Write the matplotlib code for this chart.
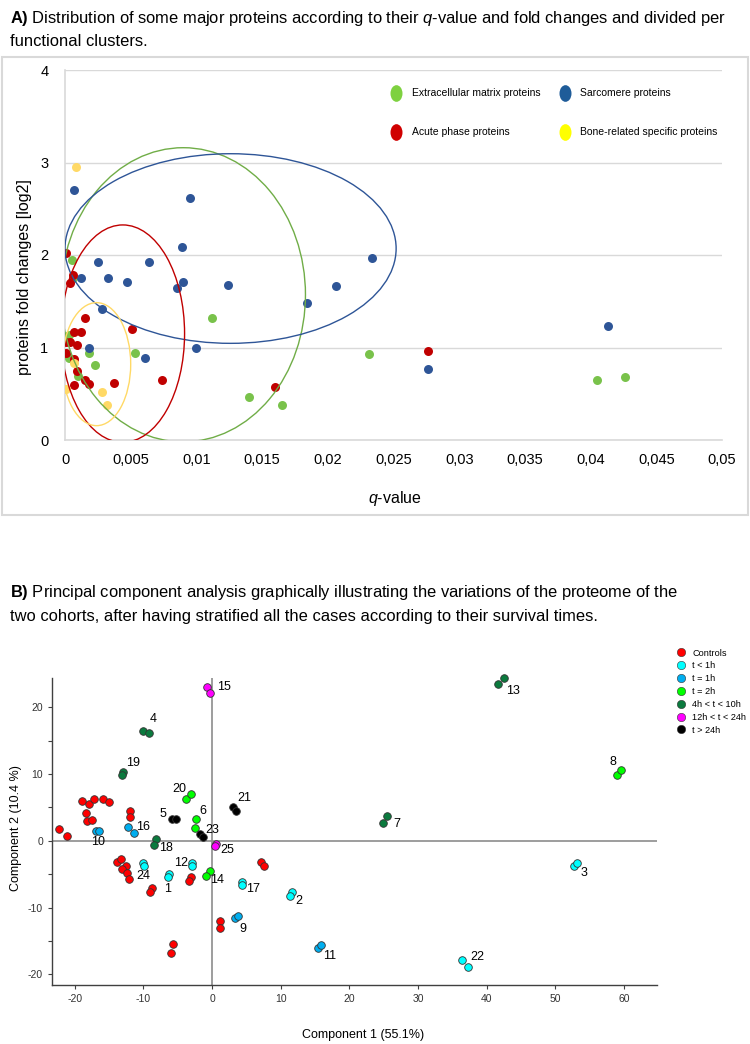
import numpy as np
import matplotlib
matplotlib.use("Agg")
import matplotlib.pyplot as plt
from matplotlib import font_manager
from matplotlib.patches import Ellipse, Rectangle
from matplotlib.lines import Line2D
from matplotlib.path import Path

# ---------------- data: panel A (q-value vs log2 fold change) ----------------
ecm_q = [0.0005, 0.0006, 0.0112, 0.0003, 0.0018, 0.0053, 0.0003, 0.0023, 0.0010,
         0.0140, 0.0165, 0.0231, 0.0405, 0.0426]
ecm_fc = [1.95, 1.75, 1.32, 1.13, 0.94, 0.94, 0.89, 0.81, 0.69, 0.46, 0.38, 0.93, 0.65, 0.68]

sarc_q = [0.0007, 0.0095, 0.0089, 0.0025, 0.0064, 0.0234, 0.0012, 0.0033, 0.0047, 0.0090,
          0.0124, 0.0206, 0.0085, 0.0184, 0.0028, 0.0018, 0.0100, 0.0061, 0.0413, 0.0276]
sarc_fc = [2.70, 2.62, 2.09, 1.92, 1.92, 1.97, 1.75, 1.75, 1.71, 1.71,
           1.68, 1.66, 1.64, 1.48, 1.42, 0.99, 0.99, 0.89, 1.23, 0.77]

acute_q = [0.0001, 0.0006, 0.0004, 0.0015, 0.0007, 0.0012, 0.0051, 0.0001, 0.0004, 0.0009,
           0.0001, 0.0007, 0.0009, 0.0015, 0.0018, 0.0007, 0.0037, 0.0074, 0.0160, 0.0276]
acute_fc = [2.02, 1.78, 1.70, 1.32, 1.17, 1.17, 1.20, 1.06, 1.06, 1.03,
            0.94, 0.88, 0.75, 0.65, 0.61, 0.59, 0.62, 0.65, 0.57, 0.96]

bone_q = [0.0008, 0.0007, 0.0001, 0.0028, 0.0032]
bone_fc = [2.95, 0.83, 0.55, 0.52, 0.38]

# cluster ellipses: centre q, centre fc, width (q), height (fc)
ell_ecm = [0.0090, 1.57, 0.0186, 3.18]
ell_sarc = [0.0126, 2.07, 0.0252, 2.05]
ell_acute = [0.0044, 1.15, 0.0094, 2.35]
ell_bone = [0.0024, 0.82, 0.0052, 1.33]

q_ticks = [0, 0.005, 0.01, 0.015, 0.02, 0.025, 0.03, 0.035, 0.04, 0.045, 0.05]
q_labels = ["0", "0,005", "0,01", "0,015", "0,02", "0,025", "0,03", "0,035", "0,04", "0,045", "0,05"]
fc_ticks = [0, 1, 2, 3, 4]

# ---------------- data: panel B (PCA) ----------------
ctrl_pc1 = [-22.3, -21.1, -19.0, -17.9, -17.2, -15.9, -15.0, -18.3, -18.2, -17.5, -11.9, -11.9,
            -13.9, -13.3, -12.5, -13.1, -12.4, -12.1, -8.8, -9.1, -3.1, -3.3, 7.2, 7.6,
            1.2, 1.2, -5.7, -6.0]
ctrl_pc2 = [1.8, 0.8, 6.0, 5.5, 6.3, 6.3, 5.8, 4.2, 3.0, 3.1, 4.5, 3.5,
            -3.2, -2.7, -3.7, -4.2, -4.8, -5.7, -7.0, -7.6, -5.4, -6.0, -3.1, -3.7,
            -12.0, -13.0, -15.5, -16.8]

case_ids = list(range(1, 26))
case_group = ["lt1", "lt1", "lt1", "4to10", "gt24", "2h", "4to10", "2h", "1h", "1h",
              "1h", "lt1", "4to10", "2h", "12to24", "1h", "lt1", "4to10", "4to10", "2h",
              "gt24", "lt1", "gt24", "lt1", "12to24"]
case_pc1 = [(-6.3, -6.4), (11.7, 11.3), (52.7, 53.2), (-10.0, -9.2), (-5.8, -5.2),
            (-2.3, -2.5), (24.9, 25.5), (59.0, 59.6), (3.3, 3.8), (-16.9, -16.4),
            (15.5, 15.9), (-2.9, -2.9), (41.6, 42.5), (-0.3, -0.9), (-0.7, -0.3),
            (-12.2, -11.4), (4.4, 4.4), (-8.2, -8.5), (-13.0, -13.1), (-3.8, -3.0),
            (3.1, 3.5), (36.4, 37.3), (-1.7, -1.3), (-10.0, -9.9), (0.6, 0.4)]
case_pc2 = [(-4.9, -5.4), (-7.6, -8.2), (-3.7, -3.3), (16.5, 16.2), (3.3, 3.3),
            (3.2, 1.9), (2.7, 3.7), (9.9, 10.6), (-11.5, -11.2), (1.5, 1.5),
            (-16.1, -15.6), (-3.3, -3.7), (23.5, 24.4), (-4.5, -5.2), (23.1, 22.2),
            (2.1, 1.2), (-6.1, -6.6), (0.3, -0.6), (10.3, 9.9), (6.3, 7.0),
            (5.1, 4.5), (-17.8, -18.9), (1.0, 0.6), (-3.3, -3.7), (-0.4, -0.7)]

group_keys = ["ctrl", "lt1", "1h", "2h", "4to10", "12to24", "gt24"]
group_names = ["Controls", "t < 1h", "t = 1h", "t = 2h", "4h < t < 10h", "12h < t < 24h", "t > 24h"]

# ---------------- styles ----------------
installed = {f.name for f in font_manager.fontManager.ttflist}
body = "Liberation Sans Narrow" if "Liberation Sans Narrow" in installed else "Liberation Sans"
NARROW = [body, "DejaVu Sans"]
ARIAL = ["Liberation Sans", "DejaVu Sans"]
plt.rcParams["font.family"] = NARROW
plt.rcParams["axes.unicode_minus"] = False
plt.rcParams["mathtext.fontset"] = "custom"
plt.rcParams["mathtext.rm"] = body
plt.rcParams["mathtext.it"] = body + ":italic"
plt.rcParams["mathtext.bf"] = body + ":bold"

group_colors = {"ctrl": "#ff0000", "lt1": "#00ffff", "1h": "#00aeef", "2h": "#00ff00",
                "4to10": "#0b7a3e", "12to24": "#ff00ff", "gt24": "#000000"}

# label offsets in pixels (dx right, dy down) from the pair centre
lab_off = {1: (-1, 14), 2: (8, 7), 3: (8, 9), 4: (7, -13), 5: (-11, -5), 6: (7, -13),
           7: (12, 5), 8: (-6, -10), 9: (6, 12), 10: (0, 11), 11: (10, 9), 12: (-11, -1),
           13: (12, 10), 14: (9, 7), 15: (15, -3), 16: (12, -3), 17: (11, 6), 18: (11, 6),
           19: (11, -10), 20: (-9, -7), 21: (10, -11), 22: (12, -6), 23: (11, -6),
           24: (0, 12), 25: (12, 5)}

W, H = 750, 1044
TS = 11.9 if body == "Liberation Sans" else 13.5


def fx(px):
    return px / W


def fy(py):
    return 1 - py / H


fig = plt.figure(figsize=(7.5, 10.44), dpi=100)

# ================= panel A =================
fig.text(fx(10), fy(18), r"$\mathbf{A)}$ Distribution of some major proteins according to their "
         r"$\mathit{q}$-value and fold changes and divided per", fontsize=TS, va="center")
fig.text(fx(10), fy(42), "functional clusters.", fontsize=TS, va="center")
fig.patches.append(Rectangle((fx(2), fy(515)), fx(746), 458 / H, transform=fig.transFigure,
                             fill=False, edgecolor="#d9d9d9", lw=1.5))

axA = fig.add_axes([fx(65), fy(440), fx(722 - 65), (440 - 70) / H])
axA.set_xlim(0, 0.05)
axA.set_ylim(0, 4)
axA.set_xticks(q_ticks)
axA.set_xticklabels(q_labels)
axA.set_yticks(fc_ticks)
axA.tick_params(length=0, labelsize=10.5, pad=9)
axA.tick_params(axis="y", pad=12)
axA.grid(axis="y", color="#d9d9d9", lw=1)
axA.set_axisbelow(True)
for s in ["top", "right"]:
    axA.spines[s].set_visible(False)
for s in ["left", "bottom"]:
    axA.spines[s].set_color("#d9d9d9")
    axA.spines[s].set_linewidth(1.2)

ms = 42
axA.scatter(ecm_q, ecm_fc, s=ms, color="#79c24b", lw=0, zorder=3)
axA.scatter(sarc_q, sarc_fc, s=ms, color="#2e5597", lw=0, zorder=3)
axA.scatter(acute_q, acute_fc, s=ms, color="#c00000", lw=0, zorder=3)
axA.scatter(bone_q, bone_fc, s=ms, color="#ffd966", lw=0, zorder=3)

for e, c in [(ell_ecm, "#70ad47"), (ell_sarc, "#2e5597"), (ell_acute, "#c00000"), (ell_bone, "#ffd966")]:
    axA.add_patch(Ellipse((e[0], e[1]), e[2], e[3], fill=False, edgecolor=c, lw=1, zorder=4))

# legend with oval markers
oval = Path(Path.unit_circle().vertices * np.array([0.72, 1.0]), Path.unit_circle().codes)
leg_handles = [Line2D([], [], ls="", marker=oval, ms=12, mec="none", mfc=c)
               for c in ["#7ed140", "#d00000", "#1f5c99", "#ffff00"]]
leg_labels = ["Extracellular matrix proteins", "Acute phase proteins",
              "Sarcomere proteins", "Bone-related specific proteins"]
axA.legend(leg_handles, leg_labels, ncol=2, frameon=False, fontsize=7.5,
           loc="upper left", bbox_to_anchor=(fx(386), fy(83)), bbox_transform=fig.transFigure,
           labelspacing=2.8, columnspacing=1.8, handlelength=1.0, handletextpad=1.0, borderpad=0)

fig.text(fx(25), fy(277), "proteins fold changes [log2]", rotation=90, fontsize=TS - 0.4,
         ha="center", va="center")
fig.text(fx(395), fy(498), r"$\mathit{q}$-value", fontsize=TS - 0.4, ha="center", va="center")

# ================= panel B =================
fig.text(fx(10), fy(593), r"$\mathbf{B)}$ Principal component analysis graphically illustrating "
         "the variations of the proteome of the", fontsize=TS, va="center")
fig.text(fx(10), fy(617), "two cohorts, after having stratified all the cases according to "
         "their survival times.", fontsize=TS, va="center")

axB = fig.add_axes([fx(52), fy(985), fx(605), 307 / H])
axB.set_xlim(-23.3, 64.8)
axB.set_ylim(-21.6, 24.4)
for s in ["top", "right"]:
    axB.spines[s].set_visible(False)
for s in ["left", "bottom"]:
    axB.spines[s].set_color("#404040")
    axB.spines[s].set_linewidth(1.0)
axB.axhline(0, color="#8c8c8c", lw=1.2, zorder=1)
axB.axvline(0, color="#8c8c8c", lw=1.2, zorder=1)
axB.set_xticks([-20, -10, 0, 10, 20, 30, 40, 50, 60])
axB.set_yticks([-20, -10, 0, 10, 20])
axB.set_yticks([-15, -5, 5, 15], minor=True)
axB.tick_params(which="both", direction="out", length=3, width=0.8, color="#404040",
                labelsize=7.5, labelcolor="#333333")
for lab in axB.get_xticklabels() + axB.get_yticklabels():
    lab.set_family(ARIAL)

mkw = dict(s=30, edgecolors="#333333", linewidths=0.6, zorder=3, clip_on=False)
axB.scatter(ctrl_pc1, ctrl_pc2, color=group_colors["ctrl"], **mkw)
for cid, g, xs, ys in zip(case_ids, case_group, case_pc1, case_pc2):
    axB.scatter(xs, ys, color=group_colors[g], **mkw)
    dx, dy = lab_off[cid]
    axB.annotate(str(cid), (np.mean(xs), np.mean(ys)), xytext=(dx, -dy),
                 textcoords="offset pixels", ha="center", va="center",
                 fontsize=9, family=ARIAL)

hB = [Line2D([], [], ls="", marker="o", ms=6, mfc=group_colors[k], mec="#333333", mew=0.4)
      for k in group_keys]
fig.legend(hB, group_names, loc="upper left", bbox_to_anchor=(fx(673), fy(644)),
           frameon=False, prop={"family": ARIAL, "size": 6.6}, labelspacing=0.42,
           handlelength=0.8, handletextpad=0.8, borderpad=0)

fig.text(fx(16), fy(828), "Component 2 (10.4 %)", rotation=90, fontsize=9,
         family=ARIAL, ha="center", va="center")
fig.text(fx(363), fy(1035), "Component 1 (55.1%)", fontsize=9, family=ARIAL,
         ha="center", va="center")

fig.savefig("out.png", dpi=100)
